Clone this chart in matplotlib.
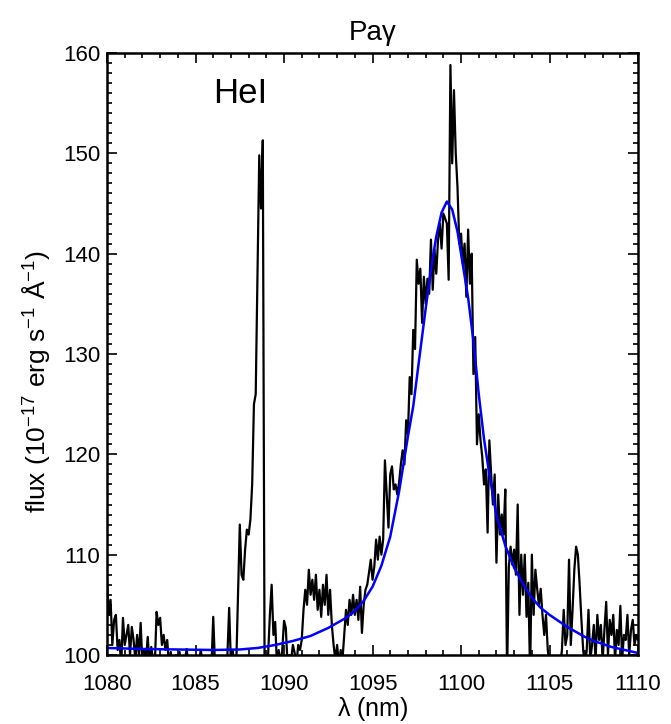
import numpy as np
import matplotlib
matplotlib.use('Agg')
import matplotlib.pyplot as plt

plt.rcParams['font.family'] = ['Liberation Sans', 'DejaVu Sans']
plt.rcParams['mathtext.default'] = 'regular'

# observed spectrum, sampled every 0.1 nm from 1080.0 to 1110.0
wl_start, wl_step = 1080.0, 0.1
flux = [
    107.5, 104.0, 105.5, 101.0, 103.5, 104.0, 100.5, 101.5, 99.0, 103.7,   # 1080
    101.0, 102.0, 103.0, 100.0, 102.8, 101.5, 99.5, 102.0, 100.0, 103.2,   # 1081
    99.0, 100.5, 99.5, 101.8, 99.0, 100.8, 99.5, 99.0, 104.3, 103.0,       # 1082
    103.7, 101.0, 102.0, 100.5, 101.5, 99.0, 100.3, 99.0, 99.5, 100.0,     # 1083
    99.0, 100.3, 98.5, 99.0, 99.5, 100.6, 99.0, 98.5, 99.0, 99.5,          # 1084
    99.0, 98.5, 99.5, 100.5, 99.0, 98.5, 99.0, 98.5, 99.5, 99.0,           # 1085
    103.8, 99.0, 98.5, 99.0, 99.5, 98.5, 99.0, 98.5, 100.0, 104.7,         # 1086
    99.0, 100.5, 98.5, 99.0, 106.0, 113.0, 108.0, 107.5, 110.5, 112.5,     # 1087
    112.0, 113.5, 117.0, 125.0, 126.0, 138.0, 149.8, 144.5, 151.3, 99.0,   # 1088
    99.0, 100.0, 104.0, 107.0, 102.0, 103.3, 99.0, 100.5, 99.0, 100.5,     # 1089
    103.4, 102.7, 99.0, 100.0, 99.5, 101.0, 100.2, 99.0, 101.0, 100.5,     # 1090
    101.5, 104.5, 106.5, 105.0, 108.5, 106.0, 107.5, 105.5, 108.0, 104.5,  # 1091
    106.5, 103.8, 107.0, 105.0, 108.0, 104.0, 106.5, 103.0, 101.0, 99.5,   # 1092
    101.0, 99.0, 100.5, 99.5, 102.0, 104.5, 103.0, 105.5, 104.0, 106.0,    # 1093
    104.0, 105.5, 103.5, 106.8, 102.2, 105.0, 106.5, 107.0, 108.2, 109.5,  # 1094
    107.5, 108.8, 111.5, 109.5, 111.8, 110.0, 111.5, 119.4, 116.0, 112.7,  # 1095
    118.0, 118.8, 116.5, 117.0, 116.0, 117.2, 119.0, 120.4, 119.0, 123.4,  # 1096
    122.0, 127.7, 126.0, 132.4, 130.5, 139.4, 137.0, 138.5, 133.1, 137.7,  # 1097
    135.0, 137.5, 136.0, 141.4, 136.4, 140.4, 138.0, 141.4, 143.0, 140.5,  # 1098
    144.0, 143.5, 143.0, 137.4, 158.8, 149.0, 156.3, 150.0, 146.6, 141.0,  # 1099
    142.0, 139.0, 141.0, 135.7, 142.4, 137.0, 140.0, 128.0, 131.7, 121.0,  # 1100
    124.0, 121.4, 119.7, 117.0, 118.5, 112.2, 121.4, 118.0, 115.0, 118.0,  # 1101
    109.2, 116.0, 112.0, 114.0, 112.0, 116.5, 98.0, 108.8, 110.8, 109.0,   # 1102
    110.5, 108.0, 115.0, 104.0, 110.0, 106.0, 110.0, 103.8, 107.2, 98.0,   # 1103
    110.0, 104.0, 108.5, 106.6, 105.0, 106.6, 104.0, 102.0, 104.0, 100.5,  # 1104
    99.0, 98.5, 99.0, 98.5, 99.0, 98.5, 99.0, 100.5, 104.5, 101.0,         # 1105
    102.0, 109.5, 101.0, 104.5, 108.5, 110.8, 110.0, 107.0, 103.5, 100.5,  # 1106
    99.0, 100.5, 104.5, 99.5, 101.0, 103.0, 99.5, 104.0, 101.5, 103.0,     # 1107
    99.5, 102.5, 105.3, 100.0, 103.5, 102.0, 104.0, 99.5, 102.5, 101.0,    # 1108
    104.9, 99.5, 102.0, 101.5, 104.0, 100.0, 102.5, 103.5, 101.0, 102.0,   # 1109
    101.5,                                                                  # 1110
]
wl = wl_start + wl_step * np.arange(len(flux))

# fitted profile (blue)
fit_wl = [1080.0, 1082.0, 1084.0, 1086.0, 1087.5, 1088.5, 1089.5, 1090.5,
          1091.5, 1092.5, 1093.5, 1094.0, 1094.5, 1095.0, 1095.5, 1096.0,
          1096.5, 1097.0, 1097.3, 1097.6, 1098.0, 1098.3, 1098.6, 1098.9,
          1099.2, 1099.5, 1099.8, 1100.1, 1100.4, 1100.7, 1101.0, 1101.3,
          1101.6, 1102.0, 1102.5, 1103.0, 1103.5, 1104.0, 1104.5, 1105.0,
          1105.5, 1106.0, 1106.5, 1107.0, 1107.5, 1108.0, 1108.5, 1109.0,
          1109.5, 1110.0]
fit_flux = [100.7, 100.6, 100.55, 100.5, 100.55, 100.7, 101.0, 101.4,
            101.9, 102.7, 103.7, 104.4, 105.4, 106.8, 108.9, 111.8,
            116.3, 121.8, 124.8, 129.0, 134.5, 138.4, 141.7, 144.1,
            145.2, 144.4, 142.2, 138.9, 135.6, 131.3, 126.0, 121.5,
            118.0, 113.9, 110.9, 108.7, 107.1, 105.7, 104.7, 104.0,
            103.4, 102.8, 102.3, 101.8, 101.4, 101.1, 100.8, 100.6,
            100.4, 100.2]

fig = plt.figure(figsize=(6.71, 7.24), dpi=100)
ax = fig.add_axes([0.1595, 0.0953, 0.7914, 0.8315])

ax.plot(wl, flux, color='black', lw=1.6)
ax.plot(fit_wl, fit_flux, color='#0000ff', lw=1.8)

ax.set_xlim(1080, 1110)
ax.set_ylim(100, 160)
ax.set_xticks(np.arange(1080, 1111, 5))
ax.set_xticks(np.arange(1080, 1111, 1), minor=True)
ax.set_yticks(np.arange(100, 161, 10))
ax.set_yticks(np.arange(100, 161, 1), minor=True)
ax.tick_params(which='both', direction='in', top=True, right=True,
               labelsize=16, width=1.2)
ax.tick_params(which='major', length=7)
ax.tick_params(which='minor', length=3.5)
ax.tick_params(axis='x', which='major', pad=14)
ax.tick_params(axis='y', which='major', pad=5)
for s in ax.spines.values():
    s.set_linewidth(1.8)

ax.set_xlabel(r'$\lambda$ (nm)', fontsize=18, labelpad=0)
ax.set_ylabel(r'flux (10$^{-17}$ erg s$^{-1}$ Å$^{-1}$)', fontsize=19)
ax.yaxis.set_label_coords(-0.104, 0.455)
ax.set_title('Paγ', fontsize=20, pad=9)
ax.text(1086.0, 155.0, 'HeI', fontsize=25)

fig.savefig('out.png', dpi=100)
